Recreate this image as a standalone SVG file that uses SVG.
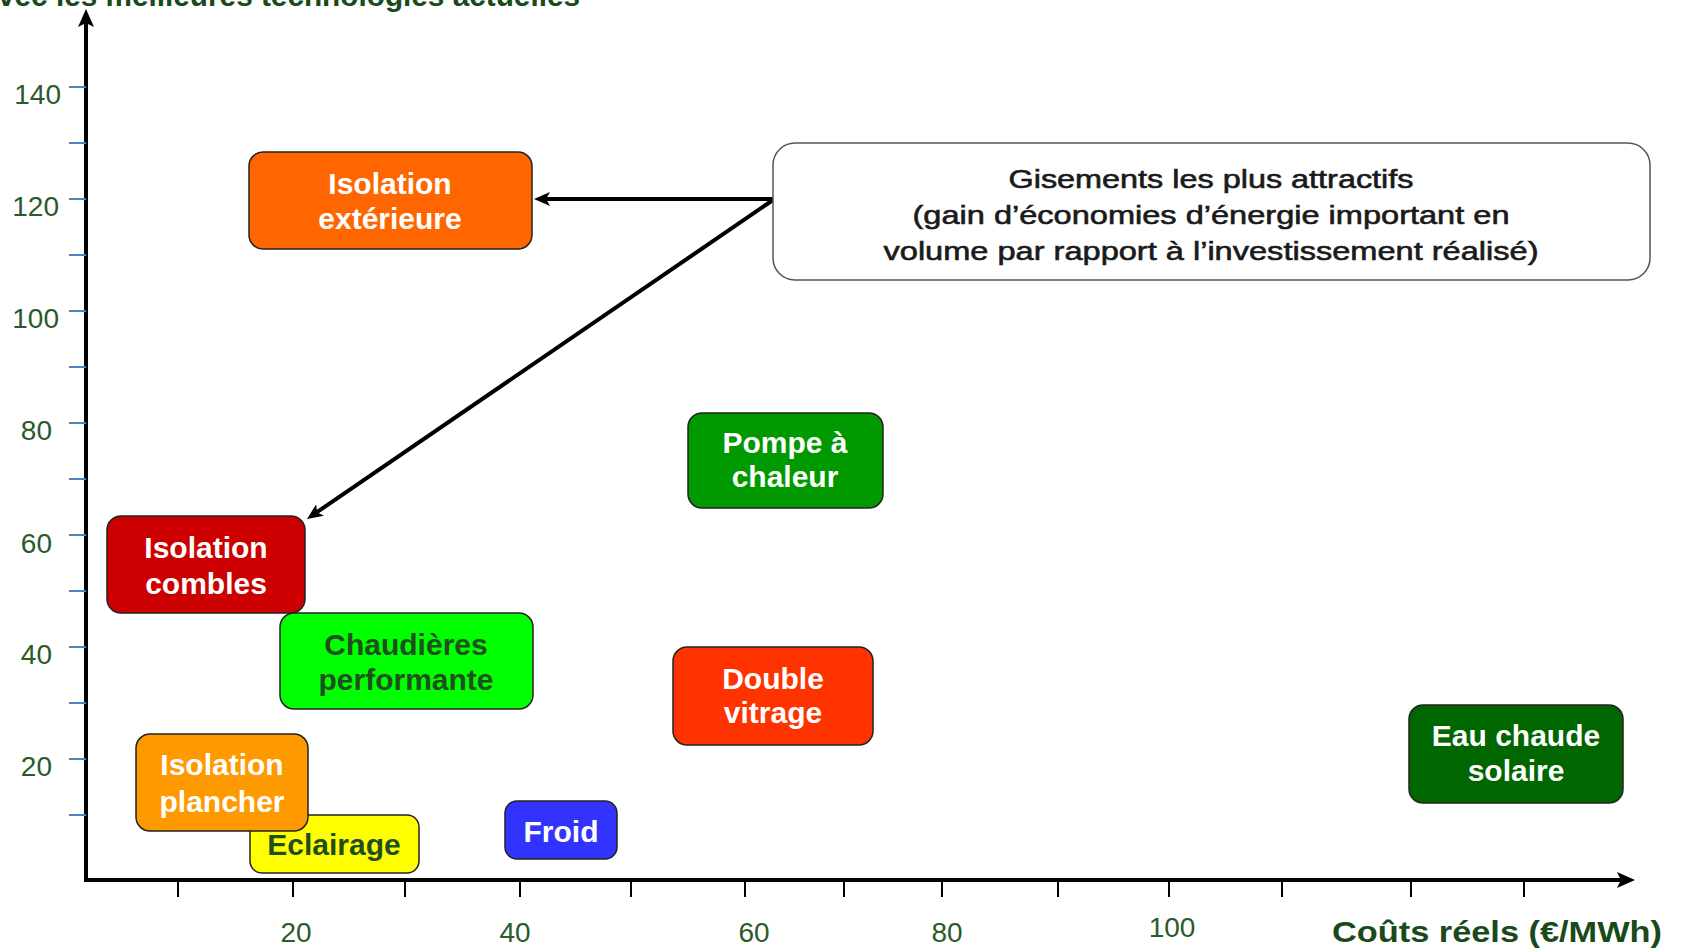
<svg xmlns="http://www.w3.org/2000/svg" width="1683" height="952" viewBox="0 0 1683 952">
<style>
.bg{fill:#ffffff}
.axis{stroke:#000;stroke-width:4;fill:none}
.ytick{stroke:#4f81bd;stroke-width:2}
.xtick{stroke:#000;stroke-width:2}
.ylab{font-family:"Liberation Sans",Arial,sans-serif;font-size:28px;fill:#2a5a2a;text-anchor:end}
.xlab{font-family:"Liberation Sans",Arial,sans-serif;font-size:28px;fill:#2a5a2a;text-anchor:middle}
.title{font-family:"Liberation Sans",Arial,sans-serif;font-size:30px;font-weight:bold;fill:#1a4a1a}
.box{stroke:#222;stroke-width:1.5}
.lbl{font-family:"Liberation Sans",Arial,sans-serif;font-size:30px;font-weight:bold;fill:#fff;text-anchor:middle}
.dlbl{font-family:"Liberation Sans",Arial,sans-serif;font-size:30px;font-weight:bold;fill:#1f4f1f;text-anchor:middle}
.note{fill:#fff;stroke:#555;stroke-width:1.5}
.ntxt{font-family:"Liberation Sans",Arial,sans-serif;font-size:26px;fill:#1a1a1a;stroke:#1a1a1a;stroke-width:0.6;text-anchor:middle}
.conn{stroke:#000;stroke-width:4;fill:none}
</style>
<defs>
<marker id="ah" markerUnits="userSpaceOnUse" markerWidth="18" markerHeight="16" refX="4" refY="7" orient="auto">
<path d="M0,0 L16,7 L0,14 L4,7 z" fill="#000"/>
</marker>
<marker id="axh" markerUnits="userSpaceOnUse" markerWidth="20" markerHeight="18" refX="4" refY="8" orient="auto">
<path d="M0,0 L18,8 L0,16 L4,8 z" fill="#000"/>
</marker>
</defs>
<rect class="bg" x="0" y="0" width="1683" height="952"/>

<g id="top-title">
<text class="title" x="-2" y="6" textLength="582" lengthAdjust="spacingAndGlyphs">vec les meilleures technologies actuelles</text>
</g>

<g id="axes">
<line class="axis" x1="86" y1="881" x2="86" y2="23" marker-end="url(#axh)"/>
<line class="axis" x1="84" y1="880" x2="1621" y2="880" marker-end="url(#axh)"/>
<g id="y-ticks">
<line class="ytick" x1="69" y1="87" x2="86" y2="87"/>
<line class="ytick" x1="69" y1="143" x2="86" y2="143"/>
<line class="ytick" x1="69" y1="199" x2="86" y2="199"/>
<line class="ytick" x1="69" y1="255" x2="86" y2="255"/>
<line class="ytick" x1="69" y1="311" x2="86" y2="311"/>
<line class="ytick" x1="69" y1="367" x2="86" y2="367"/>
<line class="ytick" x1="69" y1="423" x2="86" y2="423"/>
<line class="ytick" x1="69" y1="479" x2="86" y2="479"/>
<line class="ytick" x1="69" y1="535" x2="86" y2="535"/>
<line class="ytick" x1="69" y1="591" x2="86" y2="591"/>
<line class="ytick" x1="69" y1="647" x2="86" y2="647"/>
<line class="ytick" x1="69" y1="703" x2="86" y2="703"/>
<line class="ytick" x1="69" y1="759" x2="86" y2="759"/>
<line class="ytick" x1="69" y1="815" x2="86" y2="815"/>
</g>
<g id="y-labels">
<text class="ylab" x="61" y="104">140</text>
<text class="ylab" x="59" y="216">120</text>
<text class="ylab" x="59" y="328">100</text>
<text class="ylab" x="52" y="440">80</text>
<text class="ylab" x="52" y="553">60</text>
<text class="ylab" x="52" y="664">40</text>
<text class="ylab" x="52" y="776">20</text>
</g>
<g id="x-ticks">
<line class="xtick" x1="178" y1="882" x2="178" y2="897"/>
<line class="xtick" x1="293" y1="882" x2="293" y2="897"/>
<line class="xtick" x1="405" y1="882" x2="405" y2="897"/>
<line class="xtick" x1="520" y1="882" x2="520" y2="897"/>
<line class="xtick" x1="631" y1="882" x2="631" y2="897"/>
<line class="xtick" x1="745" y1="882" x2="745" y2="897"/>
<line class="xtick" x1="844" y1="882" x2="844" y2="897"/>
<line class="xtick" x1="942" y1="882" x2="942" y2="897"/>
<line class="xtick" x1="1058" y1="882" x2="1058" y2="897"/>
<line class="xtick" x1="1169" y1="882" x2="1169" y2="897"/>
<line class="xtick" x1="1282" y1="882" x2="1282" y2="897"/>
<line class="xtick" x1="1411" y1="882" x2="1411" y2="897"/>
<line class="xtick" x1="1524" y1="882" x2="1524" y2="897"/>
</g>
<g id="x-labels">
<text class="xlab" x="296" y="942">20</text>
<text class="xlab" x="515" y="942">40</text>
<text class="xlab" x="754" y="942">60</text>
<text class="xlab" x="947" y="942">80</text>
<text class="xlab" x="1172" y="937">100</text>
</g>
<text class="title" x="1332" y="942" textLength="330" lengthAdjust="spacingAndGlyphs">Coûts réels (€/MWh)</text>
</g>

<g id="connectors">
<line class="conn" x1="773" y1="199" x2="546" y2="199" marker-end="url(#ah)"/>
<line class="conn" x1="773" y1="200" x2="316.9" y2="512.2" marker-end="url(#ah)"/>
</g>

<g id="node-isolation-exterieure">
<rect class="box" x="249" y="152" width="283" height="97" rx="14" fill="#ff6600"/>
<text class="lbl" x="390" y="194">Isolation</text>
<text class="lbl" x="390" y="229">extérieure</text>
</g>

<g id="node-gisements">
<rect class="note" x="773" y="143" width="877" height="137" rx="22"/>
<text class="ntxt" x="1211" y="188" textLength="405" lengthAdjust="spacingAndGlyphs">Gisements les plus attractifs</text>
<text class="ntxt" x="1211" y="224" textLength="597" lengthAdjust="spacingAndGlyphs">(gain d’économies d’énergie important en</text>
<text class="ntxt" x="1211" y="260" textLength="655" lengthAdjust="spacingAndGlyphs">volume par rapport à l’investissement réalisé)</text>
</g>

<g id="node-pompe-chaleur">
<rect class="box" x="688" y="413" width="195" height="95" rx="14" fill="#009900"/>
<text class="lbl" x="785" y="453">Pompe à</text>
<text class="lbl" x="785" y="487">chaleur</text>
</g>

<g id="node-isolation-combles">
<rect class="box" x="107" y="516" width="198" height="97" rx="14" fill="#cc0000"/>
<text class="lbl" x="206" y="558">Isolation</text>
<text class="lbl" x="206" y="594">combles</text>
</g>

<g id="node-chaudieres">
<rect class="box" x="280" y="613" width="253" height="96" rx="14" fill="#00ff00"/>
<text class="dlbl" x="406" y="655">Chaudières</text>
<text class="dlbl" x="406" y="690">performante</text>
</g>

<g id="node-double-vitrage">
<rect class="box" x="673" y="647" width="200" height="98" rx="14" fill="#ff3300"/>
<text class="lbl" x="773" y="689">Double</text>
<text class="lbl" x="773" y="723">vitrage</text>
</g>

<g id="node-eau-chaude">
<rect class="box" x="1409" y="705" width="214" height="98" rx="14" fill="#006600"/>
<text class="lbl" x="1516" y="746">Eau chaude</text>
<text class="lbl" x="1516" y="781">solaire</text>
</g>

<g id="node-eclairage">
<rect class="box" x="250" y="815" width="169" height="58" rx="12" fill="#ffff00"/>
<text class="dlbl" x="334" y="855">Eclairage</text>
</g>

<g id="node-isolation-plancher">
<rect class="box" x="136" y="734" width="172" height="97" rx="14" fill="#ff9900"/>
<text class="lbl" x="222" y="775">Isolation</text>
<text class="lbl" x="222" y="812">plancher</text>
</g>

<g id="node-froid">
<rect class="box" x="505" y="801" width="112" height="58" rx="12" fill="#3333ff"/>
<text class="lbl" x="561" y="842">Froid</text>
</g>
</svg>
